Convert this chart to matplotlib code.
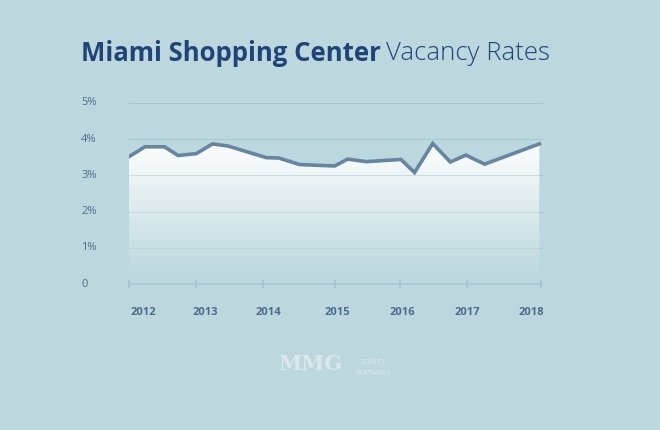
import matplotlib
matplotlib.use("Agg")
import matplotlib.pyplot as plt
import numpy as np
from matplotlib.colors import LinearSegmentedColormap

years = [2011.78, 2012.03, 2012.33, 2012.54, 2012.82, 2013.07, 2013.31, 2013.9, 2014.09,
         2014.41, 2014.95, 2015.15, 2015.44, 2015.97, 2016.18, 2016.46, 2016.73, 2016.97,
         2017.26, 2018.1]
rates = [3.51, 3.79, 3.79, 3.55, 3.60, 3.87, 3.81, 3.49, 3.48, 3.30, 3.26, 3.45, 3.38,
         3.44, 3.08, 3.88, 3.37, 3.56, 3.31, 3.87]
year_labels = ["2012", "2013", "2014", "2015", "2016", "2017", "2018"]
year_pos = [2012.0, 2012.96, 2013.93, 2014.99, 2015.99, 2017.0, 2017.97]
axis_ticks = [2011.78, 2012.81, 2013.85, 2014.95, 2015.95, 2016.99, 2018.13]
ytick_vals = [0, 1, 2, 3, 4, 5]
ytick_labels = ["0", "1%", "2%", "3%", "4%", "5%"]

bg = "#bcd8de"
line_c = "#6685a1"
txt_c = "#4d6b8a"
grid_c = "#a9c8d3"

fig = plt.figure(figsize=(6.6, 4.3), dpi=100, facecolor=bg)
ax = fig.add_axes([0.195, 0.3395, 0.627, 0.421])
ax.set_facecolor(bg)
ax.set_xlim(2011.78, 2018.15)
ax.set_ylim(0, 5.0)

for v in ytick_vals[1:]:
    ax.axhline(v, color=grid_c, lw=0.8, zorder=1)

x = np.array(years); y = np.array(rates)
poly = ax.fill_between(x, y, 0, color="none", zorder=2)
grad = np.linspace(0, 1, 256).reshape(-1, 1)
cmap = LinearSegmentedColormap.from_list("g", [bg, "#ffffff"])
im = ax.imshow(grad, extent=[x.min(), x.max(), 0.25, 4.0], origin="lower",
               aspect="auto", cmap=cmap, zorder=2)
im.set_clip_path(poly.get_paths()[0], transform=ax.transData)
for v in ytick_vals[1:4]:
    ax.axhline(v, color=grid_c, lw=0.6, alpha=0.6, zorder=3)

ax.plot(x, y, color=line_c, lw=2.6, zorder=4, solid_joinstyle="miter")

ax.plot([x.min(), 2018.13], [0, 0], color="#a8c7d2", lw=1.2, zorder=3, clip_on=False)
for t in axis_ticks:
    ax.plot([t, t], [-0.08, 0.08], color="#a8c7d2", lw=1.5, zorder=3, clip_on=False)

for sp in ax.spines.values():
    sp.set_visible(False)
ax.set_xticks([]); ax.set_yticks([])
for v, l in zip(ytick_vals, ytick_labels):
    ax.text(2011.05, v, l, color=txt_c, fontsize=8, ha="left", va="center",
            family="Open Sans")
for p, l in zip(year_pos, year_labels):
    ax.text(p, -0.78, l, color=txt_c, fontsize=8, ha="center", va="center",
            family="Open Sans", fontweight="bold")

t1 = fig.text(0.122, 0.875, "Miami Shopping Center", color="#1f4478", fontsize=18.5,
              fontweight="bold", family="Open Sans", va="center")
fig.canvas.draw()
bb = t1.get_window_extent()
fig.text(bb.x1 / fig.bbox.width + 0.008, 0.875, "Vacancy Rates", color="#1f4478",
         fontsize=18.5, family="Open Sans", fontweight="light", va="center")

fig.text(0.47, 0.153, "MMG", color="#dbe8ec", fontsize=15, family="DejaVu Serif",
         fontweight="bold", ha="center", va="center")
fig.text(0.565, 0.158, "EQUITY", color="#dbe8ec", fontsize=5, ha="center", va="center")
fig.text(0.565, 0.133, "PARTNERS", color="#dbe8ec", fontsize=5, ha="center", va="center")

fig.savefig("out.png", dpi=100, facecolor=bg)
